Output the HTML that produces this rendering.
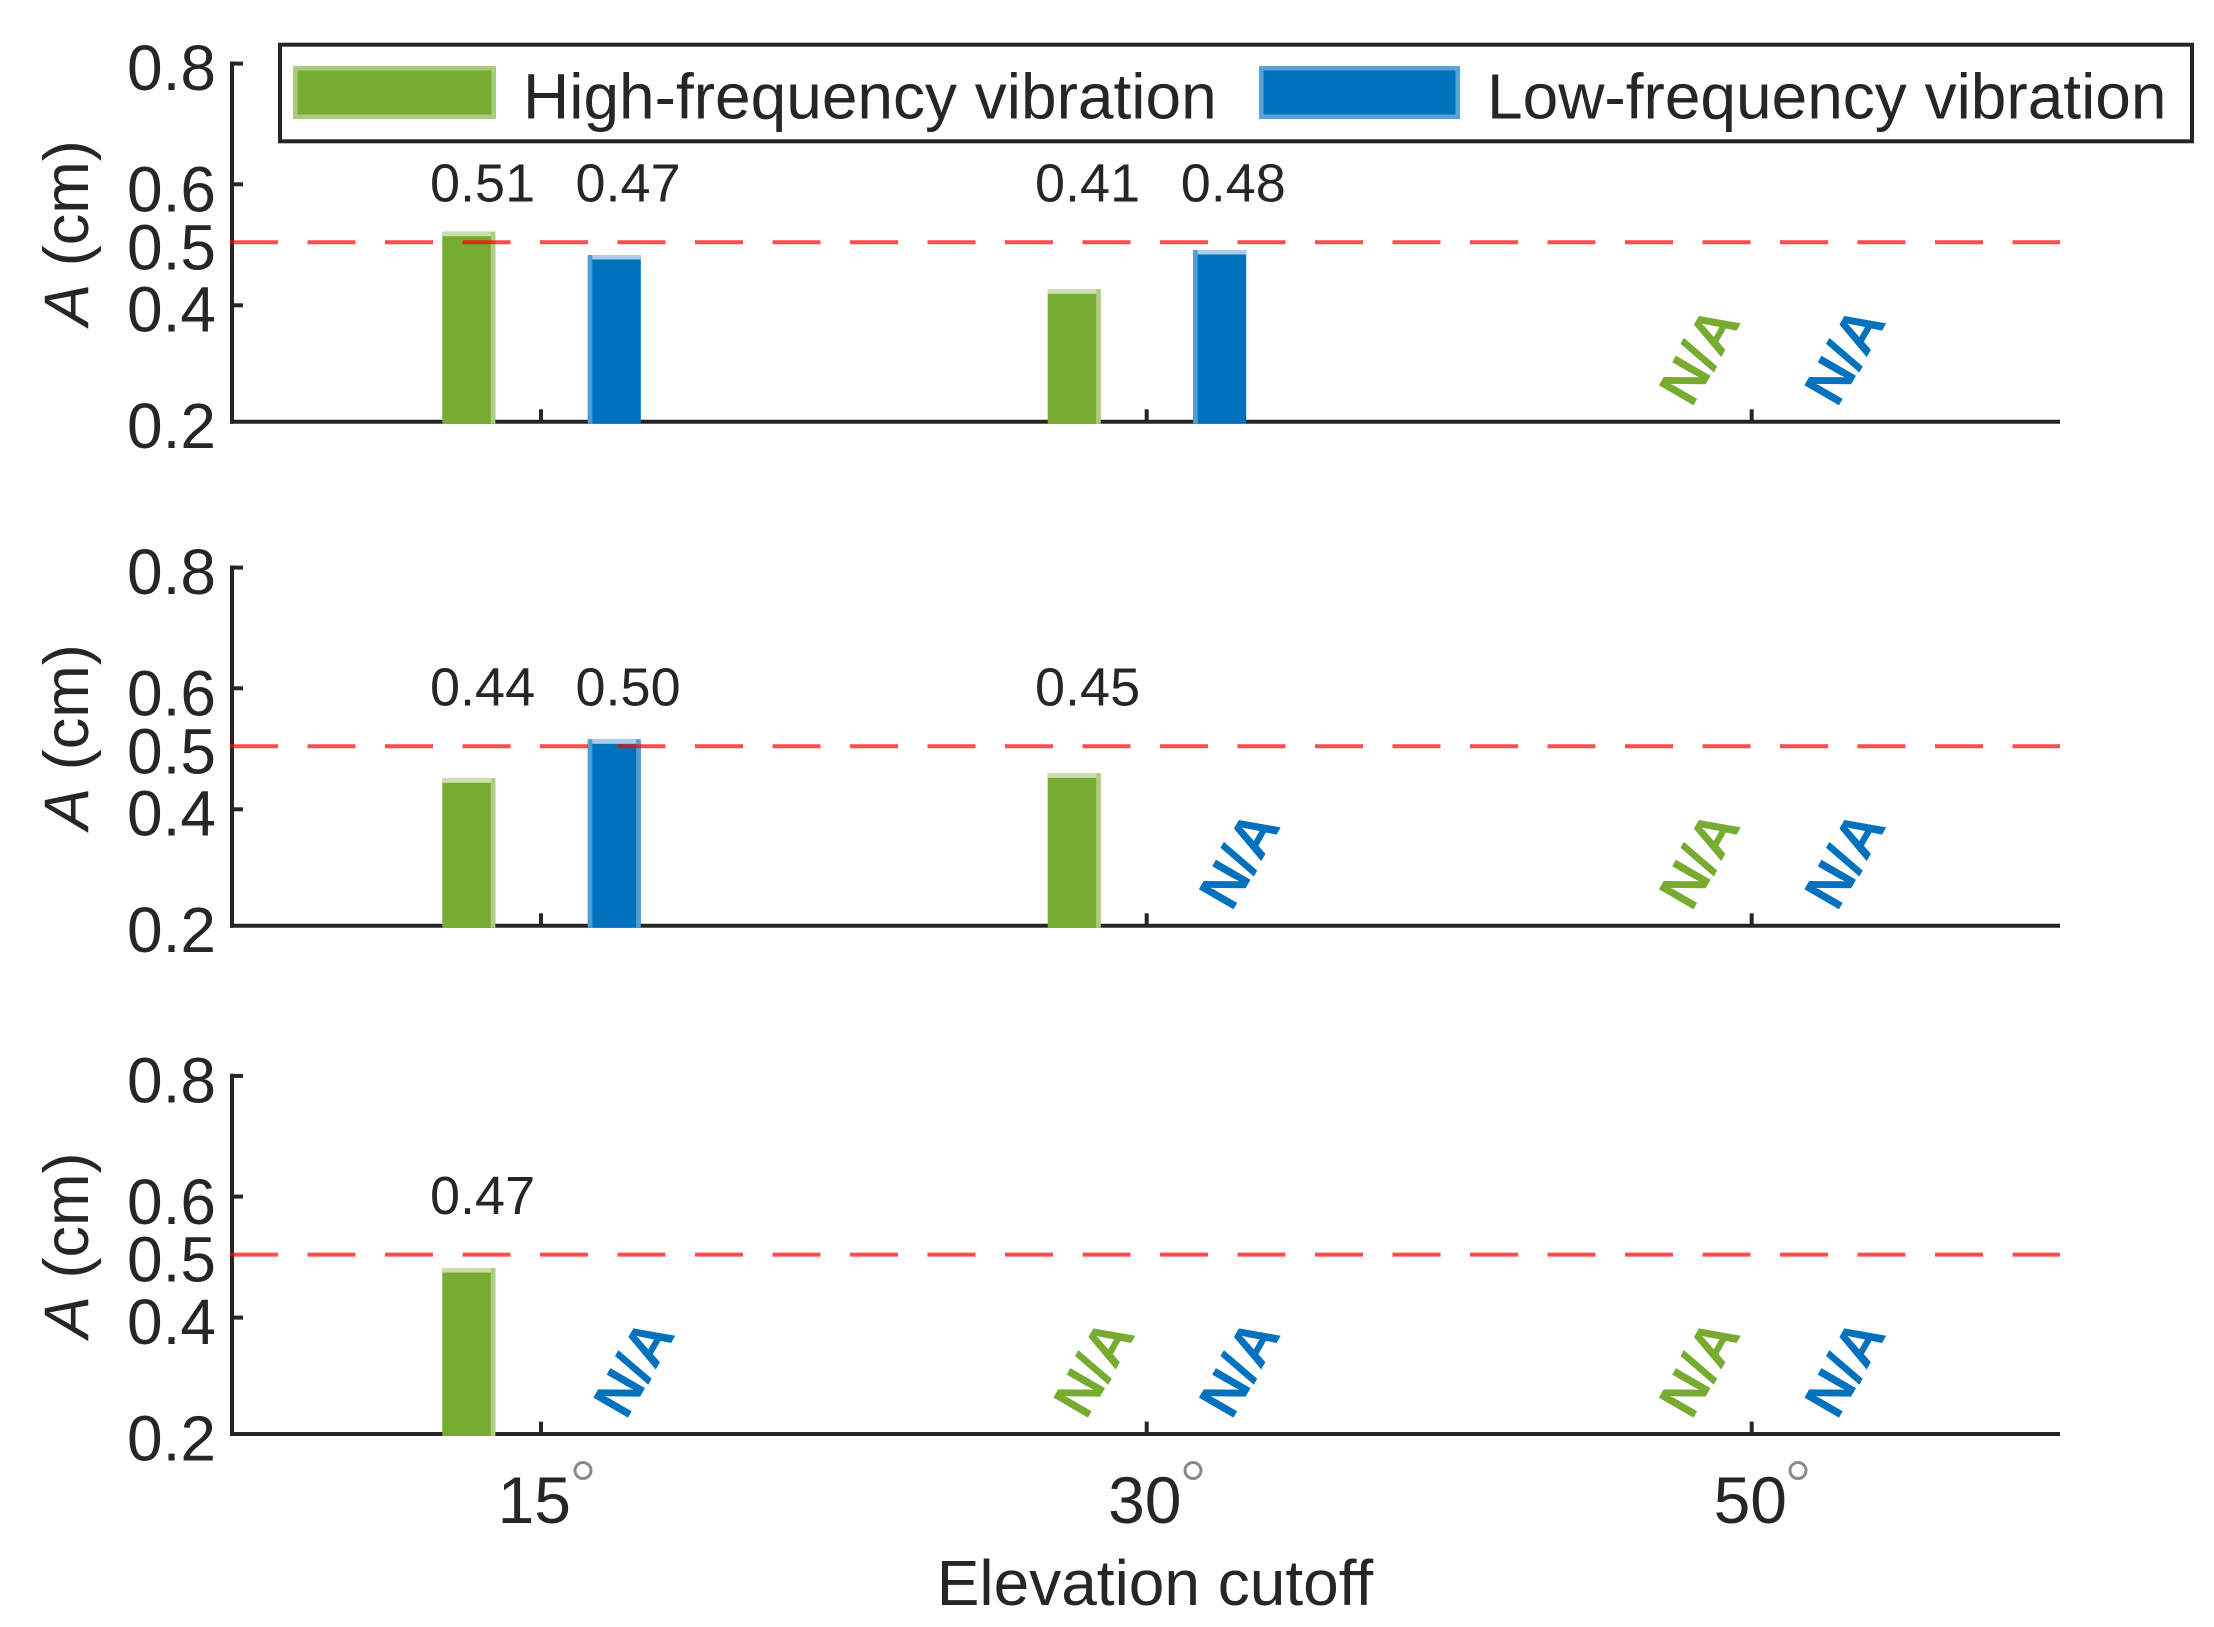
<!DOCTYPE html>
<html>
<head>
<meta charset="utf-8">
<style>
  html, body { margin: 0; padding: 0; background: #ffffff; }
  svg { display: block; }
  text { font-family: "Liberation Sans", Arial, sans-serif; fill: #262626; }
</style>
</head>
<body>
<svg width="2214" height="1627" viewBox="0 0 2214 1627" xmlns="http://www.w3.org/2000/svg">
  <rect x="0" y="0" width="2214" height="1627" fill="#ffffff"/>

  <defs>
    <g id="axes">
      <line x1="232" y1="61.5" x2="232" y2="423.7" stroke="#262626" stroke-width="4"/>
      <line x1="232" y1="63.6" x2="243" y2="63.6" stroke="#262626" stroke-width="4"/>
      <line x1="232" y1="184.3" x2="243" y2="184.3" stroke="#262626" stroke-width="4"/>
      <line x1="232" y1="305.3" x2="243" y2="305.3" stroke="#262626" stroke-width="4"/>
      <line x1="230" y1="421.7" x2="2060" y2="421.7" stroke="#262626" stroke-width="4"/>
      <g font-size="64" text-anchor="end">
        <text x="216" y="90">0.8</text>
        <text x="216" y="211.5">0.6</text>
        <text x="216" y="269.3">0.5</text>
        <text x="216" y="331.7">0.4</text>
        <text x="216" y="448">0.2</text>
      </g>
      <text transform="translate(88,233) rotate(-90)" font-size="63" text-anchor="middle"><tspan font-style="italic">A</tspan> (cm)</text>
    </g>
    <g id="xticks">
      <line x1="541" y1="409.3" x2="541" y2="421.7" stroke="#262626" stroke-width="4"/>
      <line x1="1146.7" y1="409.3" x2="1146.7" y2="421.7" stroke="#262626" stroke-width="4"/>
      <line x1="1751.7" y1="409.3" x2="1751.7" y2="421.7" stroke="#262626" stroke-width="4"/>
    </g>
    <line id="dash" x1="230" y1="242.3" x2="2060" y2="242.3" stroke="#ff0000" stroke-opacity="0.7" stroke-width="4" stroke-dasharray="48 29.5"/>
  </defs>

  <!-- ================= PANEL 1 ================= -->
  <g>
    <use href="#axes"/>
    <rect x="442.3" y="231.7" width="53" height="192" fill="#77AC30"/>
    <rect x="442.3" y="231.7" width="53" height="4.5" fill="#c9e0ae"/>
    <rect x="490.8" y="231.7" width="4.5" height="192" fill="#acce80"/>
    <rect x="587.8" y="255" width="53" height="168.7" fill="#0072BD"/>
    <rect x="587.8" y="255" width="53" height="4.5" fill="#a9cdea"/>
    <rect x="587.8" y="255" width="4.5" height="168.7" fill="#4f9dd6"/>
    <rect x="1047.7" y="289.3" width="53" height="134.4" fill="#77AC30"/>
    <rect x="1047.7" y="289.3" width="53" height="4.5" fill="#c9e0ae"/>
    <rect x="1096.2" y="289.3" width="4.5" height="134.4" fill="#acce80"/>
    <rect x="1193.2" y="250" width="53" height="173.7" fill="#0072BD"/>
    <rect x="1193.2" y="250" width="53" height="4.5" fill="#a9cdea"/>
    <rect x="1193.2" y="250" width="4.5" height="173.7" fill="#4f9dd6"/>
    <use href="#xticks"/>
    <use href="#dash"/>
    <g font-size="54">
      <text x="430" y="201.5">0.51</text>
      <text x="575.5" y="201.5">0.47</text>
      <text x="1035" y="201.5">0.41</text>
      <text x="1180.7" y="201.5">0.48</text>
    </g>
    <g font-size="58" font-weight="bold" text-anchor="middle">
      <text transform="translate(1698.5,355) rotate(-60)" x="0" y="20.8" style="fill:#77AC30">N/A</text>
      <text transform="translate(1844,355) rotate(-60)" x="0" y="20.8" style="fill:#0072BD">N/A</text>
    </g>
  </g>

  <!-- ================= PANEL 2 ================= -->
  <g transform="translate(0,504)">
    <use href="#axes"/>
    <rect x="442.3" y="274.3" width="53" height="149.4" fill="#77AC30"/>
    <rect x="442.3" y="274.3" width="53" height="4.5" fill="#c9e0ae"/>
    <rect x="490.8" y="274.3" width="4.5" height="149.4" fill="#acce80"/>
    <rect x="587.8" y="235.3" width="53" height="188.4" fill="#0072BD"/>
    <rect x="587.8" y="235.3" width="53" height="4.5" fill="#a9cdea"/>
    <rect x="587.8" y="235.3" width="4.5" height="188.4" fill="#4f9dd6"/>
    <rect x="636.1" y="235.3" width="4.5" height="188.4" fill="#4f9dd6"/>
    <rect x="1047.7" y="269.3" width="53" height="154.4" fill="#77AC30"/>
    <rect x="1047.7" y="269.3" width="53" height="4.5" fill="#c9e0ae"/>
    <rect x="1096.2" y="269.3" width="4.5" height="154.4" fill="#acce80"/>
    <use href="#xticks"/>
    <use href="#dash"/>
    <g font-size="54">
      <text x="430" y="201.5">0.44</text>
      <text x="575.5" y="201.5">0.50</text>
      <text x="1035" y="201.5">0.45</text>
    </g>
    <g font-size="58" font-weight="bold" text-anchor="middle">
      <text transform="translate(1238.5,355) rotate(-60)" x="0" y="20.8" style="fill:#0072BD">N/A</text>
      <text transform="translate(1698.5,355) rotate(-60)" x="0" y="20.8" style="fill:#77AC30">N/A</text>
      <text transform="translate(1844,355) rotate(-60)" x="0" y="20.8" style="fill:#0072BD">N/A</text>
    </g>
  </g>

  <!-- ================= PANEL 3 ================= -->
  <g transform="translate(0,1012.3)">
    <use href="#axes"/>
    <rect x="442.3" y="255.7" width="53" height="168" fill="#77AC30"/>
    <rect x="442.3" y="255.7" width="53" height="4.5" fill="#c9e0ae"/>
    <rect x="490.8" y="255.7" width="4.5" height="168" fill="#acce80"/>
    <use href="#xticks"/>
    <use href="#dash"/>
    <g font-size="54">
      <text x="430" y="201.5">0.47</text>
    </g>
    <g font-size="58" font-weight="bold" text-anchor="middle">
      <text transform="translate(633,355) rotate(-60)" x="0" y="20.8" style="fill:#0072BD">N/A</text>
      <text transform="translate(1093,355) rotate(-60)" x="0" y="20.8" style="fill:#77AC30">N/A</text>
      <text transform="translate(1238.5,355) rotate(-60)" x="0" y="20.8" style="fill:#0072BD">N/A</text>
      <text transform="translate(1698.5,355) rotate(-60)" x="0" y="20.8" style="fill:#77AC30">N/A</text>
      <text transform="translate(1844,355) rotate(-60)" x="0" y="20.8" style="fill:#0072BD">N/A</text>
    </g>
  </g>

  <!-- x tick labels -->
  <g font-size="66" text-anchor="end">
    <text x="571" y="1523">15</text>
    <text x="1181.5" y="1523">30</text>
    <text x="1787" y="1523">50</text>
  </g>
  <g fill="none" stroke="#8a8a8a" stroke-width="3">
    <circle cx="583" cy="1470.5" r="8"/>
    <circle cx="1193" cy="1470.5" r="8"/>
    <circle cx="1798" cy="1470.5" r="8"/>
  </g>

  <!-- x label -->
  <text x="936.7" y="1605" font-size="64">Elevation cutoff</text>

  <!-- legend -->
  <rect x="280" y="44.7" width="1912" height="96.6" fill="#ffffff" stroke="#262626" stroke-width="4"/>
  <rect x="293" y="66" width="203" height="53" fill="#a9cc7c"/>
  <rect x="297.5" y="70.5" width="194" height="44" fill="#77AC30"/>
  <text x="523" y="118.5" font-size="64">High-frequency vibration</text>
  <rect x="1259" y="66" width="201" height="53" fill="#5aa3da"/>
  <rect x="1263.5" y="70.5" width="192" height="44" fill="#0072BD"/>
  <text x="1487" y="118.5" font-size="64">Low-frequency vibration</text>
</svg>
</body>
</html>
